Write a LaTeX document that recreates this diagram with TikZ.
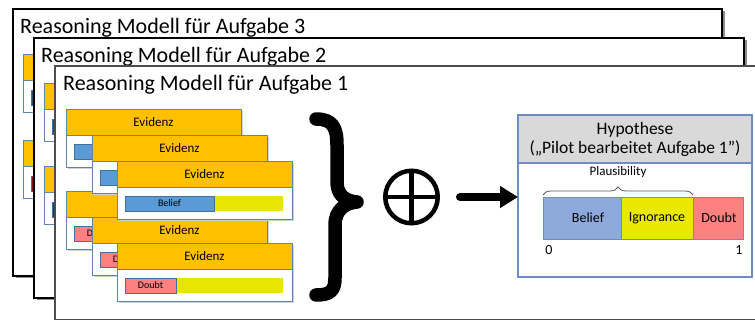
\documentclass[tikz,border=0pt]{standalone}
\usepackage{fontspec}
\setmainfont{Carlito}
\usetikzlibrary{arrows.meta,decorations.pathreplacing}

\definecolor{evorange}{HTML}{FFC000}
\definecolor{evborder}{HTML}{5F84B0}
\definecolor{barborder}{HTML}{41719C}
\definecolor{barblue}{HTML}{5B9BD5}
\definecolor{barpink}{HTML}{FF8080}
\definecolor{baryellow}{HTML}{E6E600}
\definecolor{bardarkblue}{HTML}{254F74}
\definecolor{bardarkred}{HTML}{8B0A0A}
\definecolor{hypborder}{HTML}{6C8EBF}
\definecolor{hypgrey}{HTML}{D9D9D9}
\definecolor{hbelief}{HTML}{8EA9DB}
\definecolor{hign}{HTML}{E8E800}
\definecolor{hdoubt}{HTML}{FF8080}

\tikzset{
  panelbox/.style={draw=black, line width=1.2pt, fill=white, inner sep=0pt, outer sep=0pt, anchor=north west},
  panelshadow/.style={fill=black!45},
  paneltitle/.style={anchor=base west, inner sep=0pt, font=\fontsize{22}{26}\selectfont},
  evframe/.style={draw=evborder, line width=0.9pt},
  evhead/.style={evframe, fill=evorange, minimum width=175pt, minimum height=26pt, inner sep=0pt, outer sep=0pt, anchor=north west, font=\fontsize{13}{15}\selectfont},
  barlabel/.style={draw=barborder, line width=0.9pt, minimum height=15pt, inner sep=0pt, outer sep=0pt, anchor=north west, font=\fontsize{10}{12}\selectfont},
  hbar/.style={draw=hypborder, line width=0.8pt, minimum height=42pt, inner sep=0pt, outer sep=0pt, anchor=north west},
  hlabel/.style={inner sep=0pt, font=\fontsize{14}{16}\selectfont},
}

% one evidence card: name, x, y (top left), bar colour, bar width, bar label, header text
\newcommand\evbox[7]{%
  \fill[black!18] (#2+2,-#3-2) rectangle (#2+177,-#3-60);
  \draw[evframe, fill=white] (#2,-#3-26) rectangle (#2+175,-#3-58);
  \node[evhead] (#1) at (#2,-#3) {#7};
  \fill[baryellow] (#2+8,-#3-35) rectangle (#2+166,-#3-50);
  \node[barlabel, fill=#4, minimum width=#5pt] (#1bar) at (#2+8,-#3-35) {#6};
}
% evidence card in a model further back: x, y, bar colour
\newcommand\backcard[3]{%
  \draw[evframe, fill=white] (#1,-#2-26) rectangle (#1+175,-#2-58);
  \draw[evframe, fill=evorange] (#1,-#2) rectangle (#1+175,-#2-26);
  \draw[draw=barborder, fill=#3] (#1+8,-#2-36) rectangle (#1+60,-#2-51);
}

\begin{document}
\begin{tikzpicture}[x=1pt,y=1pt]
\clip (0,0) rectangle (755,-320);
\fill[white] (0,0) rectangle (755,-320);

% model for task 3
\fill[panelshadow] (15.5,-11.5) rectangle (724.5,-278.5);
\node[panelbox, minimum width=709pt, minimum height=267pt] (p3) at (13,-9) {};
\node[paneltitle] (t3) at (20,-34) {Reasoning Modell für Aufgabe 3};
\backcard{23}{54}{bardarkblue}
\backcard{23}{140}{bardarkred}

% model for task 2
\fill[panelshadow] (36.5,-40.5) rectangle (746.5,-300.5);
\node[panelbox, minimum width=710pt, minimum height=260pt] (p2) at (34,-38) {};
\node[paneltitle] (t2) at (41,-63) {Reasoning Modell für Aufgabe 2};
\backcard{44}{83}{bardarkblue}
\backcard{44}{166}{bardarkred}

% model for task 1
\fill[panelshadow] (57.5,-68.5) rectangle (790,-330);
\node[panelbox, draw=black!70, minimum width=730pt, minimum height=253.5pt] (p1) at (55,-66) {};
\node[paneltitle] (t1) at (63,-91) {Reasoning Modell für Aufgabe 1};

% evidence cards (doubt group first, belief group on top)
\evbox{evd}{66}{191}{barpink}{51}{Doubt}{}
\evbox{eve}{92}{217}{barpink}{51}{Doubt}{Evidenz}
\evbox{evf}{117}{243}{barpink}{51}{Doubt}{Evidenz}
\evbox{eva}{66}{109}{barblue}{89}{}{Evidenz}
\evbox{evb}{92}{135}{barblue}{89}{}{Evidenz}
\evbox{evc}{117}{161}{barblue}{89}{Belief}{Evidenz}

% big closing brace
\draw[line width=13.5pt, line cap=round, line join=round]
  (316,-119) .. controls (333,-119) and (337,-128) .. (337,-145)
  -- (337,-182) .. controls (337,-195) and (345,-201) .. (357,-202)
  .. controls (345,-203) and (335,-210) .. (335,-225)
  -- (335,-278) .. controls (335,-291) and (330,-295) .. (316,-295);

% combination operator
\node[circle, draw, line width=4.5pt, minimum size=52.5pt, inner sep=0pt,
  path picture={
    \draw[line width=4.5pt] (path picture bounding box.north) -- (path picture bounding box.south);
    \draw[line width=4.5pt] (path picture bounding box.west) -- (path picture bounding box.east);
  }] (comb) at (411.5,-197) {};

% hypothesis
\node[draw=hypborder, line width=1.2pt, fill=white, minimum width=234pt, minimum height=162pt,
  inner sep=0pt, outer sep=0pt, anchor=north west] (hyp) at (518,-115) {};
\node[draw=hypborder, line width=1.2pt, fill=hypgrey, minimum width=234pt, minimum height=48pt,
  inner sep=0pt, outer sep=0pt, anchor=north west, align=center,
  font=\fontsize{17.5}{19}\selectfont] (hyphead) at (hyp.north west) {Hypothese\\(„Pilot bearbeitet Aufgabe 1”)};

\draw[line width=8pt, line cap=round, -{Triangle[length=18pt,width=21pt]}, shorten <=20pt]
  (comb.east) -- (comb.east -| hyp.west);

\node[hbar, fill=hbelief, minimum width=78pt] (bel) at (543,-197) {};
\node[hbar, fill=hign, minimum width=72pt] (ign) at (621,-197) {};
\node[hbar, fill=hdoubt, minimum width=50pt] (dou) at (693,-197) {};
\node[hlabel] (bellab) at (588,-218) {Belief};
\node[hlabel] (ignlab) at (ign.center) {Ignorance};
\node[hlabel] (doulab) at (719,-218) {Doubt};

\draw[decorate, decoration={brace, amplitude=8pt}, draw=black!65, line width=0.8pt]
  ([yshift=2pt]bel.north west) -- ([yshift=2pt]ign.north east);
\node[font=\fontsize{13}{15}\selectfont, inner sep=0pt] (plaus) at (618,-172) {Plausibility};

\node[hlabel] (zero) at (549,-250) {0};
\node[hlabel] (one) at (739,-250) {1};
\end{tikzpicture}
\end{document}
